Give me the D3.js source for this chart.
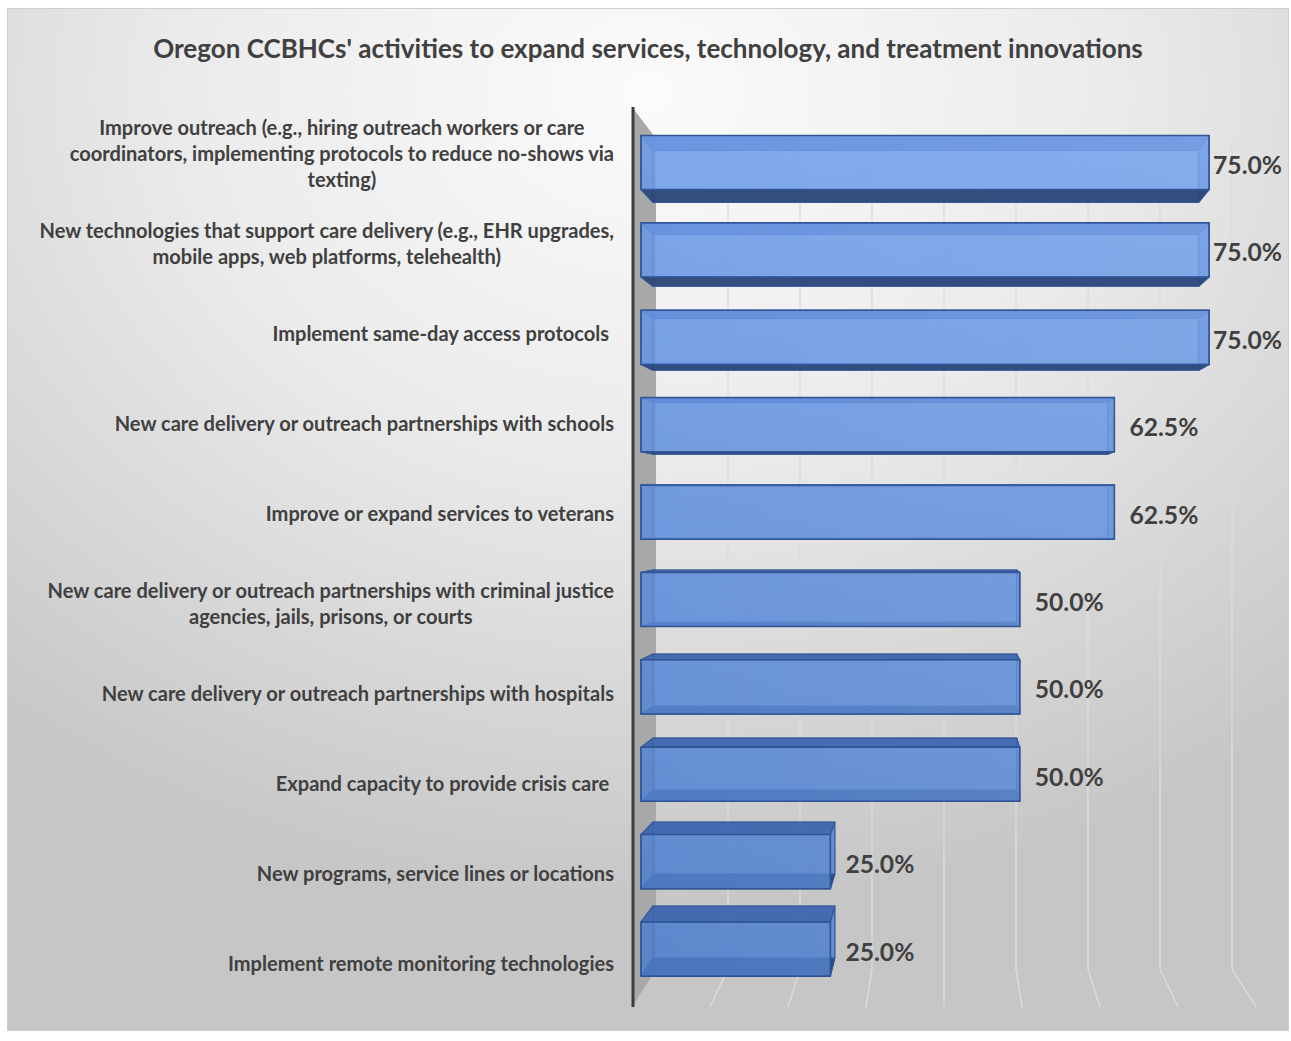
<!DOCTYPE html>
<html>
<head>
<meta charset="utf-8">
<script src="https://cdn.jsdelivr.net/npm/d3@7"></script>
<style>
  html, body { margin: 0; padding: 0; background: #ffffff; }
  svg { display: block; }
  text { font-family: Lato, "Open Sans", "DejaVu Sans", sans-serif; }
</style>
</head>
<body>
<script>
// ---------------- data ----------------
const title = "Oregon CCBHCs' activities to expand services, technology, and treatment innovations";
const categories = [
  "Improve outreach (e.g., hiring outreach workers or care\ncoordinators, implementing protocols to reduce no-shows via\ntexting)",
  "New technologies that support care delivery (e.g., EHR upgrades,\nmobile apps, web platforms, telehealth)",
  "Implement same-day access protocols ",
  "New care delivery or outreach partnerships with schools",
  "Improve or expand services to veterans",
  "New care delivery or outreach partnerships with criminal justice\nagencies, jails, prisons, or courts",
  "New care delivery or outreach partnerships with hospitals",
  "Expand capacity to provide crisis care ",
  "New programs, service lines or locations",
  "Implement remote monitoring technologies"
];
const values = [75.0, 75.0, 75.0, 62.5, 62.5, 50.0, 50.0, 50.0, 25.0, 25.0];
const axisMax = 80;
const gridTicks = [10, 20, 30, 40, 50, 60, 70, 80];

// ---------------- layout ----------------
const W = 1291, H = 1041;
const svg = d3.select("body").append("svg").attr("width", W).attr("height", H);
const defs = svg.append("defs");

// background gradient
const bg = defs.append("radialGradient").attr("id", "bg")
  .attr("cx", 0.5).attr("cy", 0.08).attr("r", 0.8).attr("fx", 0.5).attr("fy", 0.08);
bg.append("stop").attr("offset", 0).attr("stop-color", "#fbfbfb");
bg.append("stop").attr("offset", 0.45).attr("stop-color", "#ebebeb");
bg.append("stop").attr("offset", 1).attr("stop-color", "#c6c6c6");

svg.append("rect").attr("x", 7.5).attr("y", 8.5).attr("width", 1281).attr("height", 1022)
  .attr("fill", "url(#bg)").attr("stroke", "#cfcfcf").attr("stroke-width", 1);

// perspective model
const vx = 944, vy = 515;           // vanishing point
const sWall = 0.923;                // back wall depth factor
const sF = 0.971, sB = 0.933;       // bar front/back depth factors
const plotTop = 107, plotBottom = 1007;

const x = d3.scaleLinear().domain([0, axisMax]).range([632, 632 + 7.8 * axisMax]);
const y = d3.scaleBand().domain(d3.range(categories.length)).range([plotTop, plotBottom]).paddingInner(0.38).paddingOuter(0.19);

function proj(v, y0, s) {
  return [vx + (x(v) - vx) * s, vy + (y0 - vy) * s];
}
function poly(pts) { return "M" + pts.map(p => p[0].toFixed(2) + "," + p[1].toFixed(2)).join("L") + "Z"; }

// gridlines (back wall + floor)
const grid = svg.append("g");
gridTicks.forEach(t => {
  const a = proj(t, plotTop, sWall), b = proj(t, plotBottom, sWall), c = proj(t, plotBottom, 1);
  grid.append("path").attr("d", `M${a[0]},${a[1]}L${b[0]},${b[1]}L${c[0]},${c[1]}`)
    .attr("fill", "none").attr("stroke", "#dcdcdc").attr("stroke-width", 1.4);
});

// side wall
svg.append("path").attr("d", poly([proj(0, plotTop, 1), proj(0, plotTop, sWall), proj(0, plotBottom, sWall), proj(0, plotBottom, 1)]))
  .attr("fill", "#a8a8a8");
svg.append("line").attr("x1", x(0) + 1).attr("x2", x(0) + 1).attr("y1", plotTop).attr("y2", plotBottom)
  .attr("stroke", "#3d3d3d").attr("stroke-width", 3);

// bar gradients
const fg = defs.append("linearGradient").attr("id", "front").attr("gradientUnits", "userSpaceOnUse")
  .attr("x1", 0).attr("y1", 130).attr("x2", 0).attr("y2", 980);
fg.append("stop").attr("offset", 0).attr("stop-color", "#73a0ec");
fg.append("stop").attr("offset", 1).attr("stop-color", "#5080cc");
const hg = defs.append("linearGradient").attr("id", "shine").attr("gradientUnits", "userSpaceOnUse")
  .attr("x1", 641).attr("y1", 0).attr("x2", 1210).attr("y2", 0);
hg.append("stop").attr("offset", 0).attr("stop-color", "#ffffff").attr("stop-opacity", 0);
hg.append("stop").attr("offset", 1).attr("stop-color", "#ffffff").attr("stop-opacity", 0.07);

const edge = "#2f5597";
const bars = svg.append("g");
values.forEach((val, i) => {
  const y0a = y(i), y0b = y(i) + y.bandwidth();
  const g = bars.append("g");
  const face = (pts, fill, op, sw) => g.append("path").attr("d", poly(pts))
    .attr("fill", fill).attr("fill-opacity", op).attr("stroke", edge).attr("stroke-opacity", 0.8)
    .attr("stroke-width", sw || 1.1).attr("stroke-linejoin", "round");
  // back
  face([proj(0, y0a, sB), proj(val, y0a, sB), proj(val, y0b, sB), proj(0, y0b, sB)], "url(#front)", 0.5);
  // left
  face([proj(0, y0a, sF), proj(0, y0a, sB), proj(0, y0b, sB), proj(0, y0b, sF)], "#4a72bd", 0.4);
  // right
  face([proj(val, y0a, sF), proj(val, y0a, sB), proj(val, y0b, sB), proj(val, y0b, sF)], "#5a86d2", 0.8);
  // top
  face([proj(0, y0a, sF), proj(val, y0a, sF), proj(val, y0a, sB), proj(0, y0a, sB)], "#3e65ae", 0.92);
  // bottom
  face([proj(0, y0b, sF), proj(val, y0b, sF), proj(val, y0b, sB), proj(0, y0b, sB)], "#2c4677", 0.94);
  // front
  const fp = [proj(0, y0a, sF), proj(val, y0a, sF), proj(val, y0b, sF), proj(0, y0b, sF)];
  face(fp, "url(#front)", 0.8);
  g.append("path").attr("d", poly(fp)).attr("fill", "url(#shine)").attr("stroke", "none");
  g.append("path").attr("d", poly(fp)).attr("fill", "none").attr("stroke", edge).attr("stroke-width", 1.5);
});

// helper to fit font size to a target width
function fitSize(str, weight, target, base) {
  const t = svg.append("text").attr("font-weight", weight).attr("font-size", base).style("white-space", "pre").text(str);
  const w = t.node().getComputedTextLength();
  t.remove();
  return base * target / w;
}

// title
const titleSize = fitSize(title, 700, 990, 20);
svg.append("text").attr("x", 648).attr("y", 48).attr("text-anchor", "middle").attr("dominant-baseline", "central")
  .attr("font-weight", 700).attr("font-size", titleSize).attr("fill", "#404040").text(title);

// category labels
const catSize = fitSize("New care delivery or outreach partnerships with criminal justice", 700, 567, 17);
const lineH = 26;
const labels = svg.append("g");
categories.forEach((c, i) => {
  const lines = c.split("\n");
  const cy = y(i) + y.bandwidth() / 2 + 1;
  const widths = lines.map(l => {
    const t = svg.append("text").attr("font-weight", 700).attr("font-size", catSize).style("white-space", "pre").text(l);
    const w = t.node().getComputedTextLength(); t.remove(); return w;
  });
  const maxW = d3.max(widths);
  const right = 614;
  const cx = right - maxW / 2;
  lines.forEach((l, k) => {
    labels.append("text")
      .attr("x", cx).attr("y", cy + (k - (lines.length - 1) / 2) * lineH)
      .attr("text-anchor", "middle").attr("dominant-baseline", "central")
      .attr("font-weight", 700).attr("font-size", catSize).attr("fill", "#404040")
      .style("white-space", "pre").text(l);
  });
});

// value labels
const fmt = d3.format(".1f");
const valSize = fitSize("75.0%", 700, 69, 22);
values.forEach((val, i) => {
  const str = fmt(val) + "%";
  const fr = proj(val, y(i) + y.bandwidth() / 2, sF);
  const t = svg.append("text").attr("font-weight", 700).attr("font-size", valSize).attr("fill", "#404040")
    .attr("dominant-baseline", "central").attr("y", fr[1] + 2).text(str);
  const w = t.node().getComputedTextLength();
  t.attr("x", Math.min(fr[0] + 15, 1282 - w));
});
</script>
</body>
</html>
